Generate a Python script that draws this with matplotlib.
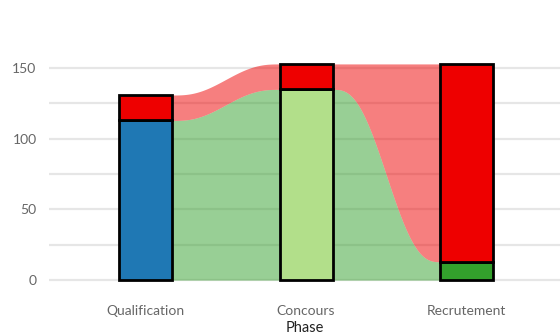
import matplotlib.pyplot as plt
import numpy as np

plt.rcParams['font.family'] = ['Lato', 'DejaVu Sans']

phases = ['Qualification', 'Concours', 'Recrutement']
bottom_vals = [113, 135, 13]      # blue / light green / green
top_vals = [18, 18, 140]          # red (non retenus)
bottom_colors = ['#1f78b4', '#b2df8a', '#33a02c']
red = '#ee0000'

fig = plt.figure(figsize=(5.6, 3.35), dpi=100)
ax = fig.add_axes([49 / 560, 0.147, 511 / 560, 0.755])

x = np.arange(len(phases))
w = 0.33

# flows between bars
for i in range(len(phases) - 1):
    x0, x1 = x[i] + w / 2, x[i + 1] - w / 2
    xs = np.linspace(x0, x1, 200)
    t = (xs - x0) / (x1 - x0)
    s = t ** 3 * (t * (6 * t - 15) + 10)
    g_top = bottom_vals[i] + (bottom_vals[i + 1] - bottom_vals[i]) * s
    tot0 = bottom_vals[i] + top_vals[i]
    tot1 = bottom_vals[i + 1] + top_vals[i + 1]
    r_top = tot0 + (tot1 - tot0) * s
    ax.fill_between(xs, 0, g_top, color='#33a02c', alpha=0.5, lw=0, zorder=2)
    ax.fill_between(xs, g_top, r_top, color=red, alpha=0.5, lw=0, zorder=2)

ax.bar(x, bottom_vals, width=w, color=bottom_colors, edgecolor='black', linewidth=2, zorder=3)
ax.bar(x, top_vals, width=w, bottom=bottom_vals, color=red, edgecolor='black', linewidth=2, zorder=3)

ax.set_xlim(-0.6, 2.58)
ax.set_ylim(-4, 175)
ax.set_yticks([0, 50, 100, 150])
ax.set_yticks([25, 75, 125], minor=True)
ax.grid(axis='y', which='both', color='#e6e6e6', linewidth=1.6, zorder=1)
ax.set_axisbelow(True)
ax.set_xticks(x)
ax.set_xticklabels(phases)
ax.tick_params(axis='x', length=0, pad=14, labelsize=10, labelcolor='#666666')
ax.tick_params(axis='y', which='both', length=0, pad=9, labelsize=10, labelcolor='#666666')
for s in ax.spines.values():
    s.set_visible(False)
ax.set_xlabel('Phase', fontsize=10.5, color='#222222', labelpad=3)

fig.savefig('out.png', dpi=100)
